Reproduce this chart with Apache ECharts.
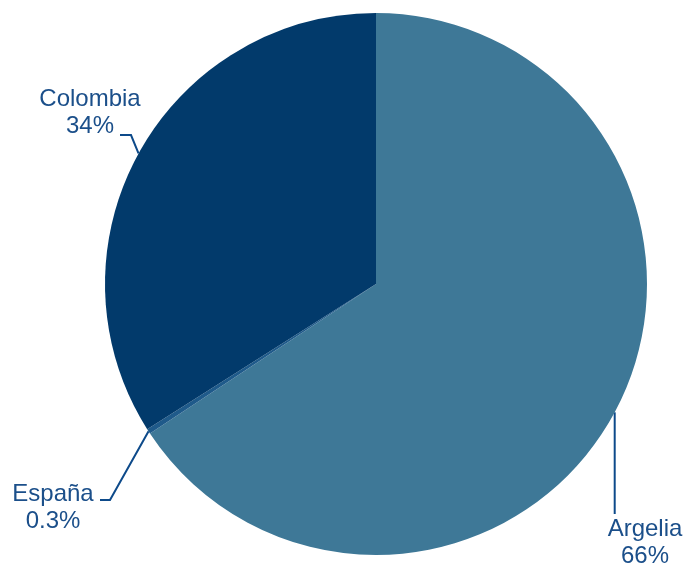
<!DOCTYPE html>
<html>
<head>
<meta charset="utf-8">
<script src="https://cdn.jsdelivr.net/npm/echarts@6/dist/echarts.min.js"></script>
<style>html,body{margin:0;padding:0;background:#fff;}#c{width:686px;height:566px;}</style>
</head>
<body>
<div id="c"></div>
<script>
var categories = ["Argelia", "España", "Colombia"];
var values = [65.7, 0.3, 34.0];
var percentLabels = ["66%", "0.3%", "34%"];
var colors = ["#3e7897", "#1f5a8a", "#023a6b"];

// label placement (block centre) and elbow points of the leader lines
var labelPos = [[645, 543], [53, 508], [90, 113]];
var elbows = [[[616, 514], [616, 514]], [[110, 500], [100, 500]], [[131, 135], [120, 135]]];
var verticalLeader = [true, false, false];

var chart = echarts.init(document.getElementById('c'));
chart.setOption({
  animation: false,
  series: [{
    type: 'pie',
    center: [376, 284],
    radius: [0, 271],
    startAngle: 90,
    clockwise: true,
    data: categories.map(function (c, i) {
      return { name: c, value: values[i], itemStyle: { color: colors[i] } };
    }),
    label: {
      show: true,
      position: 'outside',
      formatter: function (p) { return p.name + '\n' + percentLabels[p.dataIndex]; },
      color: '#1b4f8a',
      fontFamily: 'Liberation Sans, Arial, sans-serif',
      fontSize: 24,
      lineHeight: 27,
      align: 'center',
      overflow: 'none',
      width: 200
    },
    labelLine: {
      show: true,
      length: 20,
      length2: 10,
      lineStyle: { color: '#0d4a8a', width: 2 }
    },
    labelLayout: function (params) {
      var i = params.dataIndex;
      var start = params.labelLinePoints ? params.labelLinePoints[0] : elbows[i][0];
      var p1 = elbows[i][0].slice(), p2 = elbows[i][1].slice();
      if (verticalLeader[i]) { p1[0] = start[0]; p2[0] = start[0]; }
      return {
        x: labelPos[i][0],
        y: labelPos[i][1],
        align: 'center',
        verticalAlign: 'middle',
        labelLinePoints: [start, p1, p2]
      };
    },
    itemStyle: { borderWidth: 0 }
  }]
});
</script>
</body>
</html>
